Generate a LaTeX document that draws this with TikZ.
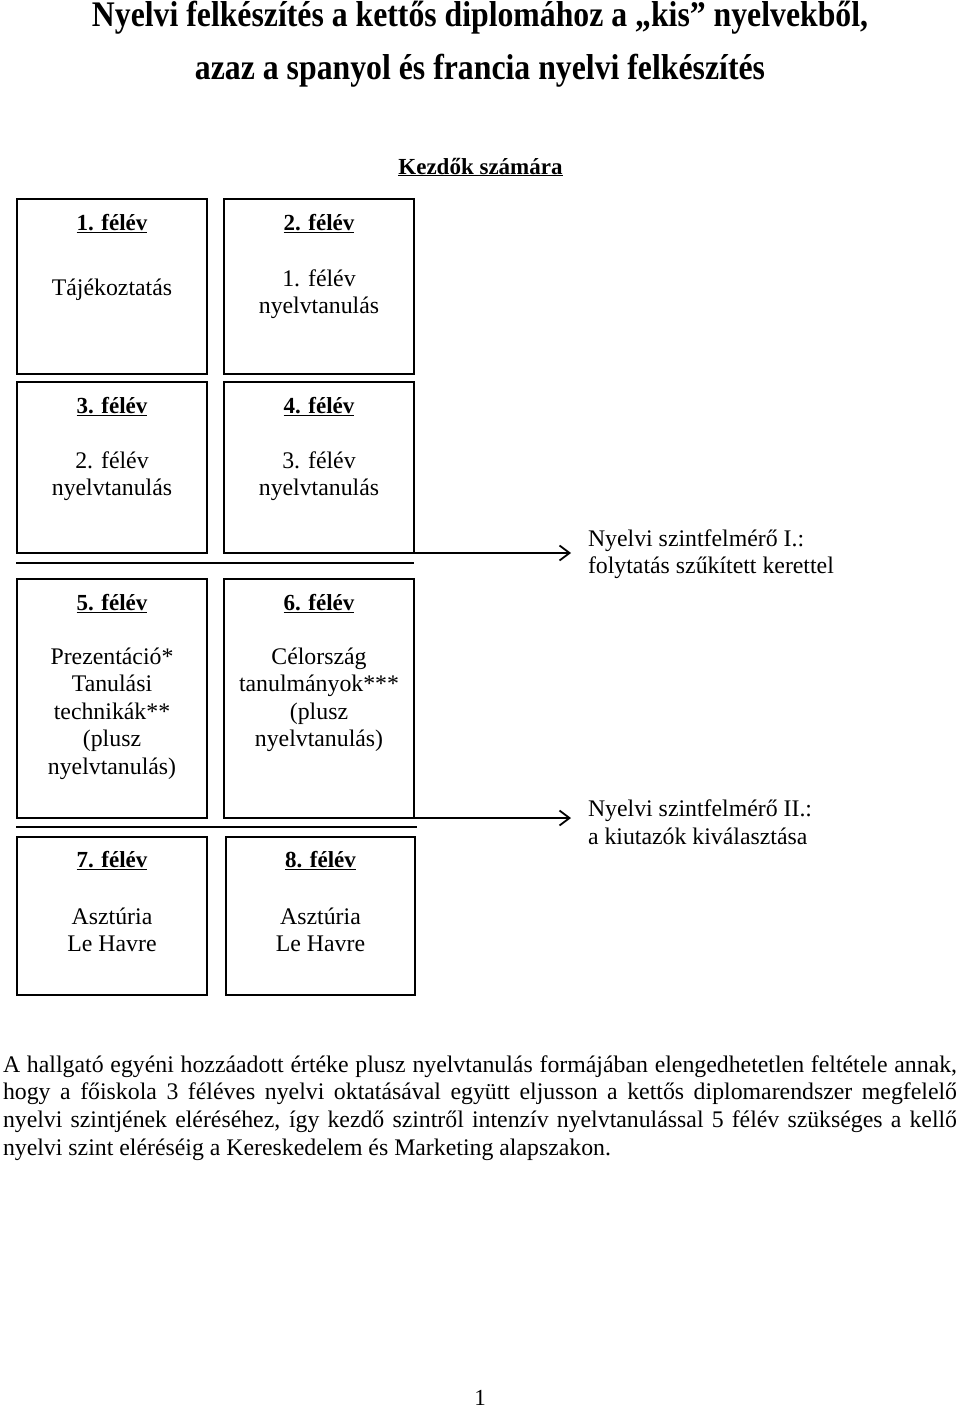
\documentclass[tikz,border=0pt]{standalone}
\usepackage{fontspec}
\usepackage{graphicx}
\setmainfont{Liberation Serif}
\usetikzlibrary{arrows.meta}
\begin{document}
\begin{tikzpicture}[x=1pt,y=-1pt,
  every node/.style={inner sep=0pt, outer sep=0pt},
  txt/.style={font=\fontsize{23.8}{27.5}\selectfont, align=center},
  lbl/.style={font=\fontsize{23.8}{27.5}\selectfont, align=left, anchor=west},
  hdr/.style={font=\fontsize{23}{27.5}\selectfont\bfseries, anchor=base},
  semb/.style={draw, line width=1.8pt, anchor=north west, minimum width=190pt},
  sepline/.style={line width=1.8pt},
  arr/.style={line width=1.8pt, -{Straight Barb[length=10pt,width=15pt]}},
]
\useasboundingbox[fill=white] (0,0) rectangle (960,1410);

% title
\node (t1) at (480,18) {\resizebox{776pt}{\height}{\fontsize{36}{36}\selectfont\bfseries Nyelvi felkészítés a kettős diplomához a „kis” nyelvekből,}};
\node (t2) at (480,71) {\resizebox{570pt}{\height}{\fontsize{36}{36}\selectfont\bfseries azaz a spanyol és francia nyelvi felkészítés}};
\node[hdr] (kezd) at (480.5,174) {\underline{Kezdők számára}};

% boxes
\node[semb, minimum height=175pt] (b1) at (17,199) {};
\node[semb, minimum height=175pt] (b2) at (224,199) {};
\node[semb, minimum height=171pt] (b3) at (17,382) {};
\node[semb, minimum height=171pt] (b4) at (224,382) {};
\node[semb, minimum height=239pt] (b5) at (17,579) {};
\node[semb, minimum height=239pt] (b6) at (224,579) {};
\node[semb, minimum height=158pt] (b7) at (17,837) {};
\node[semb, minimum width=189pt, minimum height=158pt] (b8) at (226,837) {};

% headers
\node[hdr] (h1) at (112,230) {\underline{1. félév}};
\node[hdr] (h2) at (319,230) {\underline{2. félév}};
\node[hdr] (h3) at (112,413) {\underline{3. félév}};
\node[hdr] (h4) at (319,413) {\underline{4. félév}};
\node[hdr] (h5) at (112,610) {\underline{5. félév}};
\node[hdr] (h6) at (319,610) {\underline{6. félév}};
\node[hdr] (h7) at (112,867) {\underline{7. félév}};
\node[hdr] (h8) at (320.5,867) {\underline{8. félév}};

% bodies
\node[txt] (x1) at (112,290) {Tájékoztatás};
\node[txt] (x2) at (319,294) {1. félév\\nyelvtanulás};
\node[txt] (x3) at (112,476) {2. félév\\nyelvtanulás};
\node[txt] (x4) at (319,476) {3. félév\\nyelvtanulás};
\node[txt] (x5) at (112,713.5) {Prezentáció*\\Tanulási\\technikák**\\(plusz\\nyelvtanulás)};
\node[txt] (x6) at (319,700) {Célország\\tanulmányok***\\(plusz\\nyelvtanulás)};
\node[txt] (x7) at (112,930) {Asztúria\\Le Havre};
\node[txt] (x8) at (320.5,930) {Asztúria\\Le Havre};

% separators
\draw[sepline] (16,563) -- (414,563);
\draw[sepline] (16,827) -- (417,827);

% arrows and labels
\coordinate (e1) at (571,553);
\coordinate (e2) at (571,818);
\draw[arr] (b4.south east) -- (e1);
\draw[arr] (b6.south east) -- (e2);
\node[lbl] (l1) at (588,554) {Nyelvi szintfelmérő I.:\\folytatás szűkített kerettel};
\node[lbl] (l2) at (588,822) {Nyelvi szintfelmérő II.:\\a kiutazók kiválasztása};

% paragraph
\node[anchor=north west, text width=954pt, align=justify, font=\fontsize{23.8}{27.6}\selectfont] (para) at (3,1055.5) {A hallgató egyéni hozzáadott értéke plusz nyelvtanulás formájában elengedhetetlen feltétele annak,\linebreak hogy a főiskola 3 féléves nyelvi oktatásával együtt eljusson a kettős diplomarendszer megfelelő\linebreak nyelvi szintjének eléréséhez, így kezdő szintről intenzív nyelvtanulással 5 félév szükséges a kellő\linebreak nyelvi szint eléréséig a Kereskedelem és Marketing alapszakon.};

\node[font=\fontsize{23}{27.5}\selectfont] (pg) at (480,1398) {1};
\end{tikzpicture}
\end{document}
